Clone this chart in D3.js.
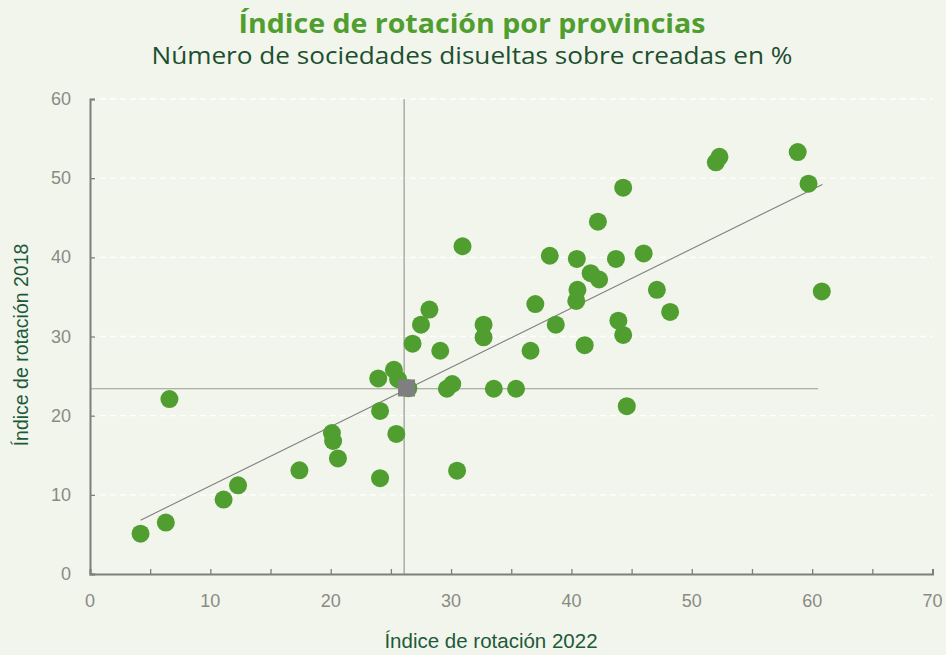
<!DOCTYPE html>
<html><head><meta charset="utf-8">
<script src="https://cdn.jsdelivr.net/npm/d3@7"></script>
<style>
html,body{margin:0;padding:0;background:#f2f5ec;}
svg{display:block;}
</style></head>
<body>
<svg id="chart" width="946" height="655"></svg>
<script>
const titleText = "Índice de rotación por provincias";
const subtitleText = "Número de sociedades disueltas sobre creadas en %";
const xTitle = "Índice de rotación 2022";
const yTitle = "Índice de rotación 2018";

const xValues = [4.2,6.3,6.6,11.1,12.3,17.4,20.1,20.2,20.6,24.1,24.1,23.95,25.25,25.6,25.45,26.45,26.8,27.5,28.2,29.1,29.65,30.1,30.5,30.95,32.7,32.7,33.55,35.4,36.6,37.0,38.2,38.7,40.45,40.5,40.4,41.1,41.6,42.3,42.2,43.7,43.9,44.3,44.3,44.6,46.0,47.1,48.2,52.0,52.3,58.8,59.7,60.8];
const yValues = [5.1,6.5,22.1,9.4,11.2,13.1,17.8,16.8,14.6,12.1,20.6,24.7,25.8,24.6,17.7,23.45,29.1,31.5,33.4,28.2,23.4,24.0,13.05,41.4,29.9,31.5,23.4,23.4,28.2,34.1,40.2,31.5,39.8,35.9,34.5,28.9,38.0,37.2,44.5,39.8,32.0,30.2,48.8,21.2,40.5,35.9,33.1,52.0,52.7,53.3,49.3,35.7];

const xTicks = [0,10,20,30,40,50,60,70];
const xMinorTicks = [0,5,10,15,20,25,30,35,40,45,50,55,60,65,70];
const yTicks = [0,10,20,30,40,50,60];

const meanPoint = [26.3, 23.5];
const refX = 26.1, refY = 23.4, refYEndX = 60.5;
const trendStart = [4.2, 6.8], trendEnd = [60.85, 49.2];

const svg = d3.select("#chart");
const W = 946, H = 655;
svg.append("rect").attr("width", W).attr("height", H).attr("fill", "#f2f5ec");

const x = d3.scaleLinear().domain([0,70]).range([90, 932.5]);
const y = d3.scaleLinear().domain([0,60]).range([574, 99]);

// gridlines
svg.append("g").selectAll("line").data(yTicks.filter(d => d > 0)).join("line")
  .attr("x1", x(0)).attr("x2", x(70)).attr("y1", d => y(d)).attr("y2", d => y(d))
  .attr("stroke", "#ffffff").attr("stroke-width", 1.3).attr("stroke-dasharray", "6,4");

// reference lines
svg.append("line").attr("x1", x(refX)).attr("x2", x(refX)).attr("y1", y(60)).attr("y2", y(0))
  .attr("stroke", "#9a9a92").attr("stroke-width", 1.2);
svg.append("line").attr("x1", x(0)).attr("x2", x(refYEndX)).attr("y1", y(refY)).attr("y2", y(refY))
  .attr("stroke", "#9a9a92").attr("stroke-width", 1.2);

// axes
const xAxis = d3.axisBottom(x).tickValues(xMinorTicks).tickSize(-5).tickFormat("");
const gx = svg.append("g").attr("transform", `translate(0,${y(0)})`).call(xAxis);
gx.select(".domain").attr("stroke", "#7f7f7a").attr("stroke-width", 2);
gx.selectAll(".tick line").attr("stroke", "#7f7f7a").attr("stroke-width", 1.3);
svg.append("g").selectAll("text").data(xTicks).join("text")
  .attr("x", d => x(d)).attr("y", 607).attr("text-anchor", "middle")
  .attr("font-family", "Liberation Sans, Arial, sans-serif").attr("font-size", 18)
  .attr("fill", "#8a8a85").text(d => d);

const yAxis = d3.axisLeft(y).tickValues(yTicks).tickSize(-5).tickFormat("");
const gy = svg.append("g").attr("transform", `translate(${x(0)},0)`).call(yAxis);
gy.select(".domain").attr("stroke", "#7f7f7a").attr("stroke-width", 2);
gy.selectAll(".tick line").attr("stroke", "#7f7f7a").attr("stroke-width", 1.3);
svg.append("g").selectAll("text").data(yTicks).join("text")
  .attr("x", 71).attr("y", d => y(d) + 6).attr("text-anchor", "end")
  .attr("font-family", "Liberation Sans, Arial, sans-serif").attr("font-size", 18)
  .attr("fill", "#8a8a85").text(d => d);

// trend line
svg.append("line").attr("x1", x(trendStart[0])).attr("y1", y(trendStart[1]))
  .attr("x2", x(trendEnd[0])).attr("y2", y(trendEnd[1]))
  .attr("stroke", "#808080").attr("stroke-width", 1.1);

// points
const pts = xValues.map((v, i) => [v, yValues[i]]);
svg.append("g").selectAll("circle").data(pts).join("circle")
  .attr("cx", d => x(d[0])).attr("cy", d => y(d[1])).attr("r", 9)
  .attr("fill", "#4f9e2f");

// mean marker
svg.append("rect").attr("x", x(meanPoint[0]) - 8.5).attr("y", y(meanPoint[1]) - 8.5)
  .attr("width", 17).attr("height", 17).attr("fill", "#7f7f7f");

// titles
svg.append("text").attr("x", 472).attr("y", 33).attr("text-anchor", "middle")
  .attr("font-family", "Open Sans, sans-serif").attr("font-weight", 700).attr("font-size", 27)
  .attr("fill", "#4f9e2f").attr("textLength", 467).attr("lengthAdjust", "spacingAndGlyphs")
  .text(titleText);
svg.append("text").attr("x", 472).attr("y", 64).attr("text-anchor", "middle")
  .attr("font-family", "Open Sans, sans-serif").attr("font-size", 24)
  .attr("fill", "#1c4f2f").attr("textLength", 641).attr("lengthAdjust", "spacingAndGlyphs")
  .text(subtitleText);

svg.append("text").attr("x", 491).attr("y", 648).attr("text-anchor", "middle")
  .attr("font-family", "Liberation Sans, Arial, sans-serif").attr("font-size", 20.5)
  .attr("fill", "#1c5a3a").text(xTitle);
svg.append("text").attr("transform", `translate(28,345) rotate(-90)`).attr("text-anchor", "middle")
  .attr("font-family", "Liberation Sans, Arial, sans-serif").attr("font-size", 19.5)
  .attr("fill", "#1c5a3a").text(yTitle);
</script>
</body></html>
